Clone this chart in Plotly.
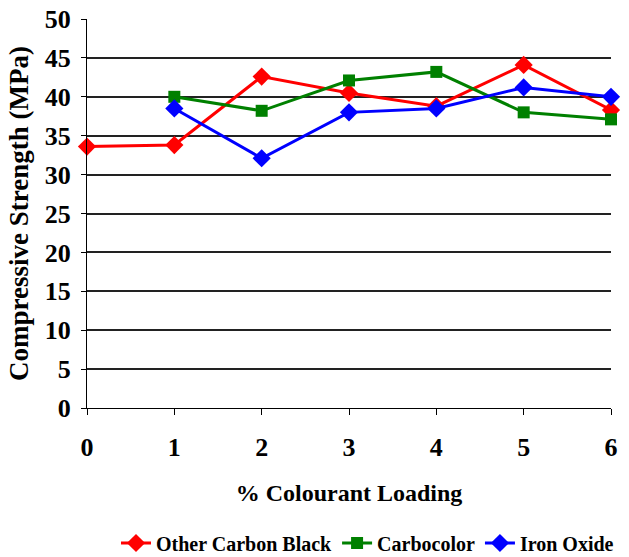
import plotly.graph_objects as go

loading = [0, 1, 2, 3, 4, 5, 6]
other_carbon_black = [33.6, 33.8, 42.6, 40.5, 38.8, 44.1, 38.3]
carbocolor_x = [1, 2, 3, 4, 5, 6]
carbocolor = [40.0, 38.2, 42.1, 43.2, 38.0, 37.1]
iron_oxide_x = [1, 2, 3, 4, 5, 6]
iron_oxide = [38.5, 32.1, 38.0, 38.5, 41.2, 40.0]
y_ticks = [0, 5, 10, 15, 20, 25, 30, 35, 40, 45, 50]

FONT = "Times New Roman, Liberation Serif, serif"

fig = go.Figure()
fig.add_trace(go.Scatter(x=loading, y=other_carbon_black, name="Other Carbon Black",
                         mode="lines+markers", line=dict(color="#ff0000", width=3),
                         marker=dict(symbol="diamond", size=14, color="#ff0000"), cliponaxis=False))
fig.add_trace(go.Scatter(x=carbocolor_x, y=carbocolor, name="Carbocolor",
                         mode="lines+markers", line=dict(color="#008000", width=3),
                         marker=dict(symbol="square", size=12, color="#008000"), cliponaxis=False))
fig.add_trace(go.Scatter(x=iron_oxide_x, y=iron_oxide, name="Iron Oxide",
                         mode="lines+markers", line=dict(color="#0000ff", width=3),
                         marker=dict(symbol="diamond", size=14, color="#0000ff"), cliponaxis=False))

fig.update_layout(
    width=629, height=557,
    margin=dict(l=87, r=18, t=19, b=149, autoexpand=False),
    paper_bgcolor="white", plot_bgcolor="white",
    font=dict(family=FONT, color="black"),
    legend=dict(orientation="h", xref="container", yref="container",
                x=116 / 629, xanchor="left", y=14 / 557, yanchor="middle",
                font=dict(family=FONT, size=20, color="black", weight="bold"),
                itemwidth=30, tracegroupgap=0, traceorder="normal"),
    xaxis=dict(range=[0, 6], tickvals=loading, ticks="outside", ticklen=6, tickcolor="black",
               showline=True, linecolor="black", linewidth=1, showgrid=False, zeroline=False,
               automargin=False,
               tickfont=dict(family=FONT, size=26, weight="bold"), ticklabelstandoff=10,
               title=dict(text="% Colourant Loading", font=dict(family=FONT, size=24, weight="bold"),
                          standoff=22)),
    yaxis=dict(range=[0, 50], tickvals=y_ticks, ticks="outside", ticklen=5, tickcolor="black",
               showline=True, linecolor="black", linewidth=1, showgrid=True, gridcolor="#222222",
               gridwidth=1.5, zeroline=False, automargin=False,
               tickfont=dict(family=FONT, size=26, weight="bold"), ticklabelstandoff=5,
               title=dict(text="Compressive Strength (MPa)", font=dict(family=FONT, size=27, weight="bold"),
                          standoff=8)),
)

fig.write_html("out.html")
